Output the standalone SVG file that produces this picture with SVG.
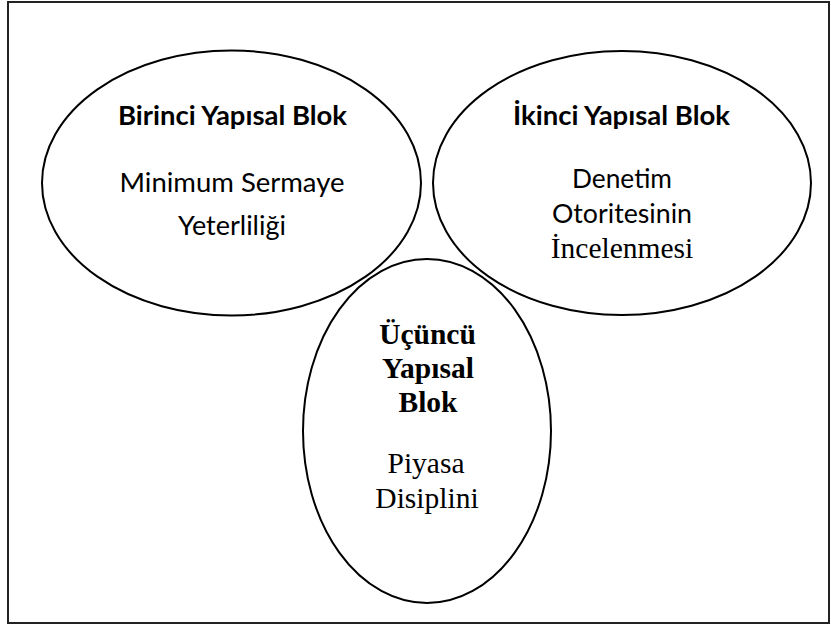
<svg xmlns="http://www.w3.org/2000/svg" width="831" height="625" viewBox="0 0 831 625">
  <style>
    .shape { fill: none; stroke: #000; stroke-width: 2; }
    .frame { fill: #fff; stroke: #222; stroke-width: 2; }
    .sans { font-family: "Lato", "Open Sans", "Liberation Sans", sans-serif; font-size: 26.5px; fill: #000; text-anchor: middle; }
    .sansb { font-weight: bold; }
    .serif { font-family: "Liberation Serif", "Times New Roman", serif; font-size: 29.5px; fill: #000; text-anchor: middle; }
    .serifb { font-weight: bold; }
  </style>
  <rect class="frame" x="8" y="2" width="821" height="621"/>
  <g id="node-birinci">
    <ellipse class="shape" cx="231.5" cy="183" rx="189.5" ry="132.5"/>
    <text class="sans sansb" x="232.5" y="125" textLength="229" lengthAdjust="spacingAndGlyphs">Birinci Yapısal Blok</text>
    <text class="sans" x="232" y="192" textLength="225" lengthAdjust="spacingAndGlyphs">Minimum Sermaye</text>
    <text class="sans" x="232" y="235" textLength="108" lengthAdjust="spacingAndGlyphs">Yeterliliği</text>
  </g>
  <g id="node-ikinci">
    <ellipse class="shape" cx="622" cy="183" rx="189" ry="132"/>
    <text class="sans sansb" x="621.5" y="125" textLength="217" lengthAdjust="spacingAndGlyphs">İkinci Yapısal Blok</text>
    <text class="sans" x="622" y="188" textLength="100" lengthAdjust="spacingAndGlyphs">Denetim</text>
    <text class="sans" x="622" y="223" textLength="140" lengthAdjust="spacingAndGlyphs">Otoritesinin</text>
    <text class="serif" x="622" y="258">İncelenmesi</text>
  </g>
  <g id="node-ucuncu">
    <ellipse class="shape" cx="427" cy="431" rx="124" ry="172"/>
    <text class="serif serifb" x="427.5" y="344">Üçüncü</text>
    <text class="serif serifb" x="428" y="378">Yapısal</text>
    <text class="serif serifb" x="428" y="412">Blok</text>
    <text class="serif" x="426" y="473">Piyasa</text>
    <text class="serif" x="427" y="508">Disiplini</text>
  </g>
  <g id="connectors"></g>
</svg>
